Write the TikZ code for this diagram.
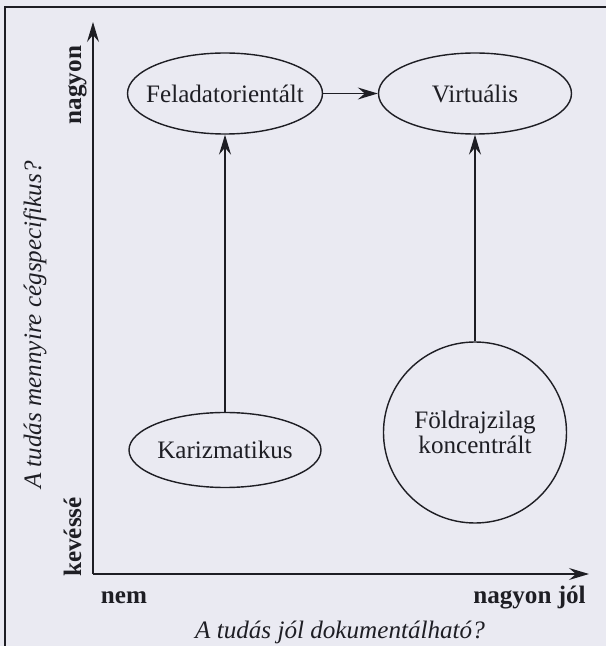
\documentclass[tikz,border=0pt]{standalone}
\usepackage{fontspec}
\setmainfont{Liberation Serif}
\usetikzlibrary{shapes.geometric,arrows.meta}

\begin{document}
\begin{tikzpicture}[line width=0.8pt,
        every node/.style={text=ink, font=\fontsize{14.3}{17}\selectfont},
        kind/.style={ellipse, draw=ink, inner xsep=-0.6cm, inner ysep=0pt},
        axislabel/.style={font=\fontsize{14.3}{17}\selectfont\bfseries, anchor=base},
        question/.style={font=\fontsize{14.3}{17}\selectfont\itshape, anchor=base},
        tip/.style={-{Stealth[length=4mm,width=2.4mm,inset=1.4mm]}}]

        \definecolor{paper}{RGB}{234,234,242}
        \definecolor{ink}{RGB}{30,30,36}

        \fill [paper] (0,0) rectangle (12.12,12.92);
        \useasboundingbox (0,0) rectangle (12.12,12.92);
        \draw [ink] (0.1,0) -- (0.1,12.78) -- (12.12,12.78); % frame

        % axes
        \coordinate (origin) at (1.86,1.44);
        \coordinate (ytip) at (1.86,12.48);
        \coordinate (xtip) at (11.78,1.44);
        \draw [ink, tip] (origin) -- (ytip);
        \draw [ink, tip] (origin) -- (xtip);

        \node [axislabel, rotate=90] (nagyony) at (1.62,11.22) {nagyon};
        \node [axislabel, rotate=90] (kevesse) at (1.62,2.18) {kevéssé};
        \node [question, rotate=90] (ylabel) at (0.82,6.42) {A tudás mennyire cégspecifikus?};
        \node [axislabel] (nem) at (2.48,0.86) {nem};
        \node [axislabel] (nagyonx) at (10.59,0.86) {nagyon jól};
        \node [question] (xlabel) at (6.8,0.15) {A tudás jól dokumentálható?};

        % kinds of knowledge
        \node [kind, minimum width=3.9cm, minimum height=1.62cm] (feladat) at (4.5,11.05) {Feladatorientált};
        \node [kind, minimum width=3.86cm, minimum height=1.62cm] (virtualis) at (9.5,11.05) {Virtuális};
        \node [kind, minimum width=3.84cm, minimum height=1.5cm] (karizma) at (4.5,3.92) {Karizmatikus};
        \node [kind, minimum width=3.66cm, minimum height=3.62cm, align=center,
               font=\fontsize{14.3}{12.3}\selectfont] (foldrajz) at (9.5,4.27) {Földrajzilag\\koncentrált};

        \draw [ink, tip] (feladat) -- (virtualis);
        \draw [ink, tip] (karizma) -- (feladat);
        \draw [ink, tip] (foldrajz) -- (virtualis);

\end{tikzpicture}
\end{document}
